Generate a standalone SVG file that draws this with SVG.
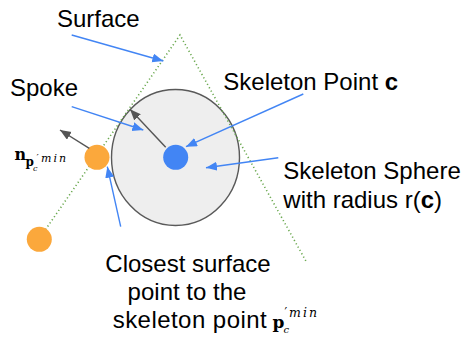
<svg xmlns="http://www.w3.org/2000/svg" width="464" height="337" viewBox="0 0 464 337">
<defs>
<marker id="ab" markerUnits="userSpaceOnUse" markerWidth="12" markerHeight="10" refX="11" refY="4.5" orient="auto"><path d="M0,0 L11,4.5 L0,9 z" fill="#4285f4"/></marker>
<marker id="ag" markerUnits="userSpaceOnUse" markerWidth="12" markerHeight="10" refX="11" refY="4.5" orient="auto"><path d="M0,0 L11,4.5 L0,9 z" fill="#555555"/></marker>
</defs>
<style>
.t{font-family:"Liberation Sans",Arial,sans-serif;font-size:24px;fill:#000}
.m{font-family:"DejaVu Serif","Liberation Serif",serif;fill:#000}
.nb{font-size:16px;font-weight:bold}
.pb{font-size:12px;font-weight:bold}
.ci{font-size:8px;font-style:italic}
.pr{font-size:10px}
.mi{font-size:11px;font-style:italic}
.pb2{font-size:17px;font-weight:bold}
.ci2{font-size:10px;font-style:italic}
.pr2{font-size:12px}
.mi2{font-size:12.5px;font-style:italic}
.b{stroke:#4285f4;stroke-width:1.4;fill:none;marker-end:url(#ab)}
.g{stroke:#555555;stroke-width:1.4;fill:none;marker-end:url(#ag)}
.dot{stroke:#6aa84f;stroke-width:1.6;stroke-dasharray:1.2 2.6;fill:none}
</style>
<rect width="464" height="337" fill="#ffffff"/>
<g id="sphere">
<ellipse cx="175.5" cy="157.5" rx="64" ry="68" fill="#eeeeee" stroke="#595959" stroke-width="1.4"/>
</g>
<g id="surface">
<path class="dot" d="M39,239 L180,35 L307,263"/>
</g>
<g id="skeleton-point">
<circle cx="175.7" cy="157.3" r="12.5" fill="#4285f4"/>
</g>
<g id="closest-point">
<circle cx="97" cy="157.3" r="12.5" fill="#fba83c"/>
</g>
<g id="surface-point">
<circle cx="39.3" cy="239.3" r="12.5" fill="#fba83c"/>
</g>
<g id="connectors">
<line class="b" x1="71.7" y1="35" x2="163.3" y2="61"/>
<line class="b" x1="71.7" y1="106.7" x2="143.3" y2="130"/>
<line class="b" x1="303.3" y1="94" x2="186" y2="146.7"/>
<line class="b" x1="278.3" y1="157.7" x2="206" y2="167.7"/>
<line class="b" x1="120.7" y1="226.7" x2="107.3" y2="166.7"/>
<line class="g" x1="165.7" y1="147.3" x2="130" y2="109.3"/>
<line class="g" x1="89.3" y1="148.3" x2="60" y2="130"/>
</g>
<g id="label-surface"><text class="t" x="57" y="27">Surface</text></g>
<g id="label-spoke"><text class="t" x="10" y="96">Spoke</text></g>
<g id="label-skeleton-point"><text class="t" x="223.3" y="90">Skeleton Point <tspan font-weight="bold">c</tspan></text></g>
<g id="label-sphere">
<text class="t" x="283.3" y="179.3">Skeleton Sphere</text>
<text class="t" x="283.3" y="208.3">with radius r(<tspan font-weight="bold">c</tspan>)</text>
</g>
<g id="label-normal">
<text class="m nb" x="14.5" y="160">n</text>
<text class="m pb" x="25.5" y="166">p</text>
<text class="m ci" x="33" y="170.5">c</text>
<text class="m pr" x="36.5" y="161">′</text>
<text class="m mi" x="41" y="162" textLength="25" lengthAdjust="spacing">min</text>
</g>
<g id="label-closest">
<text class="t" x="188" y="271.5" text-anchor="middle">Closest surface</text>
<text class="t" x="187" y="300" text-anchor="middle">point to the</text>
<text class="t" x="112.7" y="327.7" textLength="154" lengthAdjust="spacing">skeleton point</text>
<text class="m pb2" x="272.5" y="328">p</text>
<text class="m ci2" x="283.5" y="333">c</text>
<text class="m pr2" x="284.5" y="317">′</text>
<text class="m mi2" x="289" y="316.7" textLength="28" lengthAdjust="spacing">min</text>
</g>
</svg>
